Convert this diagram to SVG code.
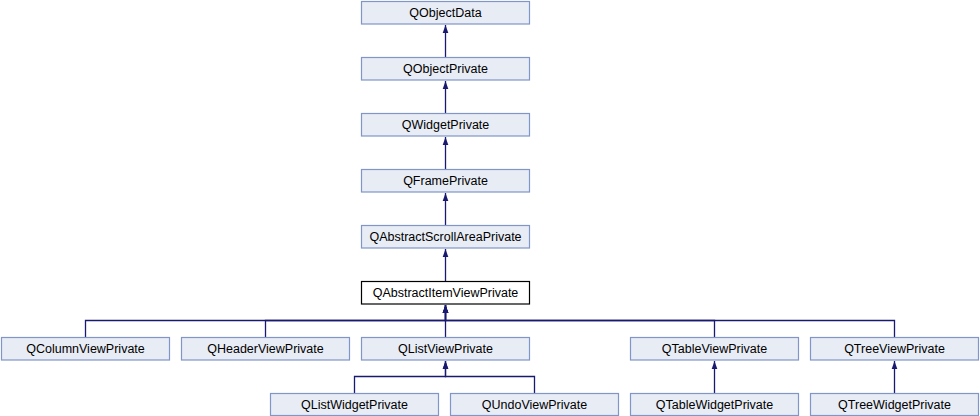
<svg xmlns="http://www.w3.org/2000/svg" width="980" height="416" viewBox="0 0 980 416">
<defs>
<style>
.n rect{fill:#e8ecf5;stroke:#7f96c6;stroke-width:1.2}
.n.h rect{fill:#ffffff;stroke:#000000}
.n text{font-family:"Liberation Sans",Arial,sans-serif;font-size:12.5px;fill:#000;text-anchor:middle}
.e path{fill:none;stroke:#191970;stroke-width:1.3;marker-end:url(#a)}
</style>
<marker id="a" viewBox="0 0 10 10" refX="10" refY="5" markerWidth="8" markerHeight="8" markerUnits="userSpaceOnUse" orient="auto">
<path d="M0,1.5 L10,5 L0,8.5 z" fill="#191970"/>
</marker>
</defs>
<rect width="980" height="416" fill="#ffffff"/>
<g id="edges" class="e">
<path d="M445.5,57 V25"/>
<path d="M445.5,113 V81"/>
<path d="M445.5,169 V137"/>
<path d="M445.5,225 V193"/>
<path d="M445.5,281 V249"/>
<path d="M85.5,337 V320.5 H445.5 V305"/>
<path d="M265.5,337 V320.5 H445.5 V305"/>
<path d="M445.5,337 V305"/>
<path d="M714.5,337 V320.5 H445.5 V305"/>
<path d="M894.5,337 V320.5 H445.5 V305"/>
<path d="M354.5,393 V376.5 H445.5 V361"/>
<path d="M534.5,393 V376.5 H445.5 V361"/>
<path d="M714.5,393 V361"/>
<path d="M894.5,393 V361"/>
</g>
<g id="QObjectData" class="n"><rect x="361.5" y="1.5" width="168" height="22.5"/><text x="445.5" y="17">QObjectData</text></g>
<g id="QObjectPrivate" class="n"><rect x="361.5" y="57.5" width="168" height="22.5"/><text x="445.5" y="73">QObjectPrivate</text></g>
<g id="QWidgetPrivate" class="n"><rect x="361.5" y="113.5" width="168" height="22.5"/><text x="445.5" y="129">QWidgetPrivate</text></g>
<g id="QFramePrivate" class="n"><rect x="361.5" y="169.5" width="168" height="22.5"/><text x="445.5" y="185">QFramePrivate</text></g>
<g id="QAbstractScrollAreaPrivate" class="n"><rect x="361.5" y="225.5" width="168" height="22.5"/><text x="445.5" y="241">QAbstractScrollAreaPrivate</text></g>
<g id="QAbstractItemViewPrivate" class="n h"><rect x="361.5" y="281.5" width="168" height="22.5"/><text x="445.5" y="297">QAbstractItemViewPrivate</text></g>
<g id="QColumnViewPrivate" class="n"><rect x="1.5" y="337.5" width="168" height="22.5"/><text x="85.5" y="353">QColumnViewPrivate</text></g>
<g id="QHeaderViewPrivate" class="n"><rect x="181.5" y="337.5" width="168" height="22.5"/><text x="265.5" y="353">QHeaderViewPrivate</text></g>
<g id="QListViewPrivate" class="n"><rect x="361.5" y="337.5" width="168" height="22.5"/><text x="445.5" y="353">QListViewPrivate</text></g>
<g id="QTableViewPrivate" class="n"><rect x="630.5" y="337.5" width="168" height="22.5"/><text x="714.5" y="353">QTableViewPrivate</text></g>
<g id="QTreeViewPrivate" class="n"><rect x="810.5" y="337.5" width="168" height="22.5"/><text x="894.5" y="353">QTreeViewPrivate</text></g>
<g id="QListWidgetPrivate" class="n"><rect x="270.5" y="393.5" width="168" height="22"/><text x="354.5" y="409">QListWidgetPrivate</text></g>
<g id="QUndoViewPrivate" class="n"><rect x="450.5" y="393.5" width="168" height="22"/><text x="534.5" y="409">QUndoViewPrivate</text></g>
<g id="QTableWidgetPrivate" class="n"><rect x="630.5" y="393.5" width="168" height="22"/><text x="714.5" y="409">QTableWidgetPrivate</text></g>
<g id="QTreeWidgetPrivate" class="n"><rect x="810.5" y="393.5" width="168" height="22"/><text x="894.5" y="409">QTreeWidgetPrivate</text></g>
</svg>
